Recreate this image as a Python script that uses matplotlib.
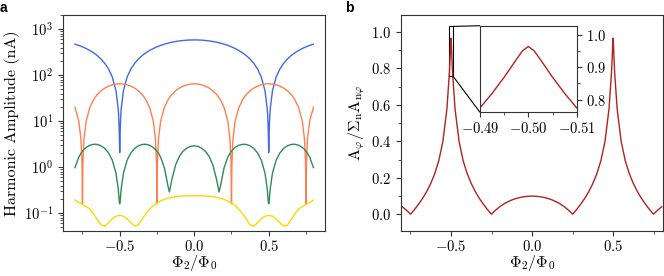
import matplotlib
matplotlib.use('Agg')
import matplotlib.pyplot as plt
from mpl_toolkits.axes_grid1.inset_locator import mark_inset
from matplotlib.ticker import AutoMinorLocator, MultipleLocator

plt.rcParams['font.family'] = 'serif'
plt.rcParams['font.serif'] = ['cmr10']
plt.rcParams['mathtext.fontset'] = 'cm'
plt.rcParams['axes.formatter.use_mathtext'] = True
plt.rcParams['font.size'] = 10.5
plt.rcParams['axes.edgecolor'] = '#333333'
plt.rcParams['xtick.color'] = '#333333'
plt.rcParams['ytick.color'] = '#333333'
plt.rcParams['xtick.labelcolor'] = 'black'
plt.rcParams['ytick.labelcolor'] = 'black'
plt.rcParams['xtick.major.pad'] = 2.5

# flux grid (Phi_2 / Phi_0)
phi = [-0.8, -0.775, -0.76, -0.753, -0.75, -0.747, -0.74, -0.725, -0.7, -0.675,
       -0.6667, -0.65, -0.625, -0.6, -0.575, -0.55, -0.525, -0.51, -0.5075, -0.505,
       -0.5025, -0.50125, -0.5, -0.49875, -0.4975, -0.495, -0.4925, -0.49, -0.475, -0.45,
       -0.425, -0.4, -0.375, -0.35, -0.3333, -0.325, -0.3, -0.275, -0.26, -0.253,
       -0.25, -0.247, -0.24, -0.225, -0.2, -0.175, -0.1667, -0.15, -0.125, -0.1,
       -0.075, -0.05, -0.025, 0.0,
       0.025, 0.05, 0.075, 0.1, 0.125, 0.15, 0.1667, 0.175, 0.2, 0.225,
       0.24, 0.247, 0.25, 0.253, 0.26, 0.275, 0.3, 0.325, 0.3333, 0.35,
       0.375, 0.4, 0.425, 0.45, 0.475, 0.49, 0.4925, 0.495, 0.4975, 0.49875,
       0.5, 0.50125, 0.5025, 0.505, 0.5075, 0.51, 0.525, 0.55, 0.575, 0.6,
       0.625, 0.65, 0.6667, 0.675, 0.7, 0.725, 0.74, 0.747, 0.75, 0.753,
       0.76, 0.775, 0.8]

# harmonic amplitudes (nA)
amp_1 = [474, 445.6, 427.2, 418.2, 414.4, 410.4, 401.1, 380.5, 344.4, 306.2,
         293, 266, 224.3, 181.1, 136.8, 91.7, 46.0, 18.53, 13.97, 9.44,
         5.05, 3.10, 2.08, 3.10, 5.05, 9.44, 13.97, 18.53, 46.0, 91.7,
         136.8, 181.1, 224.3, 266, 293, 306.2, 344.4, 380.5, 401.1, 410.4,
         414.4, 418.2, 427.2, 445.6, 474, 499.6, 507.5, 522.1, 541.4, 557.3,
         569.8, 578.8, 584.2, 586,
         584.2, 578.8, 569.8, 557.3, 541.4, 522.1, 507.5, 499.6, 474, 445.6,
         427.2, 418.2, 414.4, 410.4, 401.1, 380.5, 344.4, 306.2, 293, 266,
         224.3, 181.1, 136.8, 91.7, 46.0, 18.53, 13.97, 9.44, 5.05, 3.10,
         2.08, 3.10, 5.05, 9.44, 13.97, 18.53, 46.0, 91.7, 136.8, 181.1,
         224.3, 266, 293, 306.2, 344.4, 380.5, 401.1, 410.4, 414.4, 418.2,
         427.2, 445.6, 474]
amp_2 = [20.1, 10.17, 4.08, 1.235, 0.16, 1.235, 4.08, 10.17, 20.1, 29.5,
         32.5, 38.2, 46.0, 52.6, 57.9, 61.8, 64.2, 64.87, 64.93, 64.97,
         64.99, 65.0, 65.0, 65.0, 64.99, 64.97, 64.93, 64.87, 64.2, 61.8,
         57.9, 52.6, 46.0, 38.2, 32.5, 29.5, 20.1, 10.17, 4.08, 1.235,
         0.16, 1.235, 4.08, 10.17, 20.1, 29.5, 32.5, 38.2, 46.0, 52.6,
         57.9, 61.8, 64.2, 65.0,
         64.2, 61.8, 57.9, 52.6, 46.0, 38.2, 32.5, 29.5, 20.1, 10.17,
         4.08, 1.235, 0.16, 1.235, 4.08, 10.17, 20.1, 29.5, 32.5, 38.2,
         46.0, 52.6, 57.9, 61.8, 64.2, 64.87, 64.93, 64.97, 64.99, 65.0,
         65.0, 65.0, 64.99, 64.97, 64.93, 64.87, 64.2, 61.8, 57.9, 52.6,
         46.0, 38.2, 32.5, 29.5, 20.1, 10.17, 4.08, 1.235, 0.16, 1.235,
         4.08, 10.17, 20.1]
amp_3 = [0.98, 1.65, 2.01, 2.17, 2.23, 2.30, 2.43, 2.69, 3.01, 3.15,
         3.16, 3.12, 2.92, 2.56, 2.05, 1.43, 0.74, 0.337, 0.274, 0.219,
         0.177, 0.164, 0.16, 0.164, 0.177, 0.219, 0.274, 0.337, 0.74, 1.43,
         2.05, 2.56, 2.92, 3.12, 3.16, 3.15, 3.01, 2.69, 2.43, 2.30,
         2.23, 2.17, 2.01, 1.65, 0.96, 0.374, 0.29, 0.541, 1.12, 1.72,
         2.22, 2.60, 2.84, 2.92,
         2.84, 2.60, 2.22, 1.72, 1.12, 0.541, 0.29, 0.374, 0.96, 1.65,
         2.01, 2.17, 2.23, 2.30, 2.43, 2.69, 3.01, 3.15, 3.16, 3.12,
         2.92, 2.56, 2.05, 1.43, 0.74, 0.337, 0.274, 0.219, 0.177, 0.164,
         0.16, 0.164, 0.177, 0.219, 0.274, 0.337, 0.74, 1.43, 2.05, 2.56,
         2.92, 3.12, 3.16, 3.15, 3.01, 2.69, 2.43, 2.30, 2.23, 2.17,
         2.01, 1.65, 0.98]
amp_4 = [0.194, 0.170, 0.162, 0.157, 0.155, 0.153, 0.148, 0.139, 0.124, 0.097,
         0.088, 0.072, 0.055, 0.052, 0.062, 0.076, 0.086, 0.0885, 0.0887, 0.0888,
         0.0889, 0.0889, 0.0889, 0.0889, 0.0889, 0.0888, 0.0887, 0.0885, 0.086, 0.076,
         0.062, 0.052, 0.056, 0.074, 0.088, 0.097, 0.122, 0.146, 0.158, 0.163,
         0.165, 0.167, 0.172, 0.185, 0.200, 0.212, 0.216, 0.222, 0.229, 0.234,
         0.237, 0.239, 0.240, 0.240,
         0.240, 0.239, 0.237, 0.234, 0.229, 0.222, 0.216, 0.212, 0.200, 0.185,
         0.172, 0.167, 0.165, 0.163, 0.158, 0.146, 0.122, 0.097, 0.088, 0.074,
         0.056, 0.052, 0.062, 0.076, 0.086, 0.0885, 0.0887, 0.0888, 0.0889, 0.0889,
         0.0889, 0.0889, 0.0889, 0.0888, 0.0887, 0.0885, 0.086, 0.076, 0.062, 0.052,
         0.055, 0.072, 0.088, 0.097, 0.124, 0.139, 0.148, 0.153, 0.155, 0.157,
         0.162, 0.170, 0.194]

# normalised weight of the second harmonic
ratio = [0.0406, 0.0222, 0.00941, 0.00293, 0.00038, 0.00298, 0.0100, 0.02585, 0.0547, 0.0870,
         0.0989, 0.1243, 0.1683, 0.2226, 0.2942, 0.3987, 0.5782, 0.7738, 0.8192, 0.8695,
         0.9243, 0.9510, 0.9654, 0.9510, 0.9243, 0.8695, 0.8192, 0.7738, 0.5782, 0.3987,
         0.2942, 0.2226, 0.1683, 0.1243, 0.0989, 0.0870, 0.0547, 0.02585, 0.0100, 0.00298,
         0.00038, 0.00293, 0.00941, 0.0222, 0.0406, 0.0557, 0.0601, 0.0681, 0.0781, 0.0860,
         0.0919, 0.0960, 0.0985, 0.0994,
         0.0985, 0.0960, 0.0919, 0.0860, 0.0781, 0.0681, 0.0601, 0.0557, 0.0406, 0.0222,
         0.00941, 0.00293, 0.00038, 0.00298, 0.0100, 0.02585, 0.0547, 0.0870, 0.0989, 0.1243,
         0.1683, 0.2226, 0.2942, 0.3987, 0.5782, 0.7738, 0.8192, 0.8695, 0.9243, 0.9510,
         0.9654, 0.9510, 0.9243, 0.8695, 0.8192, 0.7738, 0.5782, 0.3987, 0.2942, 0.2226,
         0.1683, 0.1243, 0.0989, 0.0870, 0.0547, 0.02585, 0.0100, 0.00298, 0.00038, 0.00293,
         0.00941, 0.0222, 0.0406]

inset_ticks = [-0.49, -0.50, -0.51]

fig = plt.figure(figsize=(6.64, 2.76), dpi=100)
ax1 = fig.add_axes([0.095, 0.163, 0.395, 0.783])
ax2 = fig.add_axes([0.6035, 0.163, 0.3955, 0.783])

# panel a
ax1.plot(phi, amp_1, color='royalblue', lw=1.0)
ax1.plot(phi, amp_2, color='coral', lw=1.0)
ax1.plot(phi, amp_3, color='seagreen', lw=1.0)
ax1.plot(phi, amp_4, color='gold', lw=1.0)
ax1.set_yscale('log')
ax1.set_ylim(0.041, 2050)
ax1.xaxis.set_major_locator(MultipleLocator(0.5))
ax1.xaxis.set_minor_locator(MultipleLocator(0.25))
ax1.set_xlabel(r'$\Phi_2/\Phi_0$', fontsize=11.5, labelpad=-1)
ax1.set_ylabel('Harmonic Amplitude (nA)', fontsize=11.5, labelpad=3)

# panel b
ax2.plot(phi, ratio, color='firebrick', lw=1.0)
ax2.set_xlim(-0.81, 0.81)
ax2.set_ylim(-0.092, 1.093)
ax2.xaxis.set_major_locator(MultipleLocator(0.5))
ax2.xaxis.set_minor_locator(MultipleLocator(0.25))
ax2.yaxis.set_major_locator(MultipleLocator(0.2))
ax2.yaxis.set_minor_locator(MultipleLocator(0.1))
ax2.set_xlabel(r'$\Phi_2/\Phi_0$', fontsize=11.5, labelpad=-1)
ax2.set_ylabel(r'$\mathrm{A}_\varphi/\Sigma_\mathrm{n}\mathrm{A}_{\mathrm{n}\varphi}$', fontsize=11.5, labelpad=3)

# inset zoom around the peak
axins = fig.add_axes([0.7229, 0.593, 0.1456, 0.3138])
axins.plot(phi, ratio, color='firebrick', lw=1.0)
axins.set_xlim(-0.49, -0.51)
axins.set_ylim(0.76, 1.03)
axins.set_xticks(inset_ticks)
axins.xaxis.set_minor_locator(AutoMinorLocator(2))
axins.yaxis.set_major_locator(MultipleLocator(0.1))
axins.yaxis.set_minor_locator(MultipleLocator(0.05))
axins.yaxis.tick_right()
mark_inset(ax2, axins, loc1=2, loc2=3, fc='none', ec='black', lw=0.8)

fig.text(0.0, 0.958, 'a', family='Liberation Sans', weight='bold', fontsize=10)
fig.text(0.5196, 0.958, 'b', family='Liberation Sans', weight='bold', fontsize=10)

fig.savefig('out.png', dpi=100)
